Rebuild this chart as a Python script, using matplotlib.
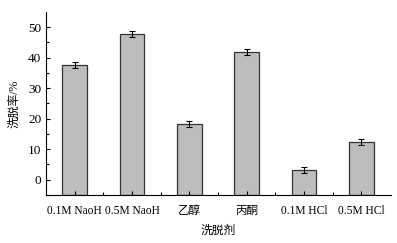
import numpy as np
import matplotlib.pyplot as plt

plt.rcParams['font.family'] = ['Liberation Serif', 'Noto Sans CJK SC']
plt.rcParams['font.size'] = 8.3

labels = ['0.1M NaoH', '0.5M NaoH', '乙醇', '丙酮', '0.1M HCl', '0.5M HCl']
rate = [37.6, 47.8, 18.3, 41.9, 3.3, 12.3]
err = [1.0, 0.9, 1.0, 0.9, 1.0, 1.0]

x = np.arange(1, len(labels) + 1)
base = -5  # bars start at the bottom of the axis

fig = plt.figure(figsize=(3.97, 2.43), dpi=100)
ax = fig.add_axes([0.116, 0.198, 0.869, 0.753])
ax.bar(x, np.array(rate) - base, bottom=base, width=0.43,
       color='#bdbdbd', edgecolor='#333333', linewidth=0.9)
ax.errorbar(x, rate, yerr=err, fmt='none', ecolor='black',
            elinewidth=0.8, capsize=2, capthick=0.8)

ax.set_xlim(0.5, 6.52)
ax.set_ylim(-5, 55)
ax.set_xticks(x)
ax.set_xticklabels(labels)
ax.set_xticks(x[:-1] + 0.5, minor=True)
ax.set_yticks([0, 10, 20, 30, 40, 50])
ax.set_yticks(np.arange(-5, 55, 5), minor=True)
ax.tick_params(direction='in', which='both', length=3, width=0.8)
ax.tick_params(which='minor', length=2)
ax.tick_params(axis='x', which='major', pad=7)
ax.tick_params(axis='y', labelsize=9.5)
ax.spines['top'].set_visible(False)
ax.spines['right'].set_visible(False)
ax.set_xlabel('洗脱剂', fontsize=8.5, labelpad=6)
ax.set_ylabel('洗脱率/%', fontsize=8.5, labelpad=5)

fig.savefig('out.png', dpi=100)
